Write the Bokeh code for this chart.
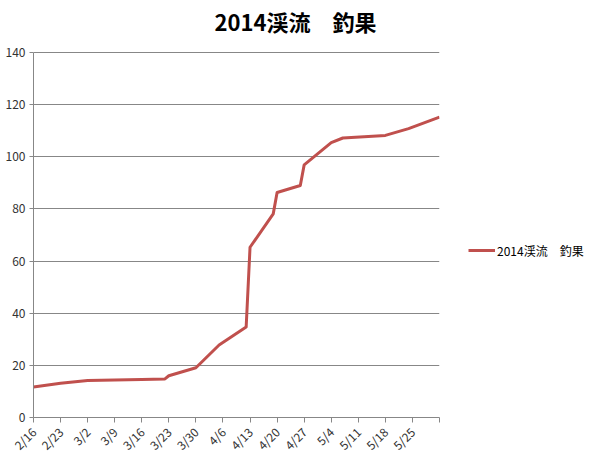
import math
import pandas as pd
from bokeh.plotting import figure
from bokeh.models import (FixedTicker, Legend, LegendItem, Range1d, Label,
                          ColumnDataSource)
from bokeh.embed import file_html
from bokeh.resources import INLINE

# ---- data ----
dates = ["2014-02-16", "2014-02-23", "2014-03-02", "2014-03-09", "2014-03-16",
         "2014-03-22", "2014-03-23", "2014-03-30", "2014-04-05", "2014-04-12",
         "2014-04-13", "2014-04-19", "2014-04-20", "2014-04-26", "2014-04-27",
         "2014-05-04", "2014-05-07", "2014-05-18", "2014-05-24", "2014-06-01"]
catch = [11.7, 13.1, 14.2, 14.4, 14.6,
         14.8, 16.0, 19.1, 27.8, 34.7,
         65.3, 78.1, 86.3, 89.0, 96.9,
         105.4, 107.2, 108.2, 110.8, 115.2]
tick_dates = ["2014-02-16", "2014-02-23", "2014-03-02", "2014-03-09", "2014-03-16",
              "2014-03-23", "2014-03-30", "2014-04-06", "2014-04-13", "2014-04-20",
              "2014-04-27", "2014-05-04", "2014-05-11", "2014-05-18", "2014-05-25",
              "2014-06-01"]
tick_labels = ["2/16", "2/23", "3/2", "3/9", "3/16", "3/23", "3/30", "4/6", "4/13",
               "4/20", "4/27", "5/4", "5/11", "5/18", "5/25", ""]
y_ticks = [0, 20, 40, 60, 80, 100, 120, 140]
series_name = "2014渓流\u3000釣果"
title_text = "2014渓流\u3000釣果"

def to_ms(d):
    return pd.Timestamp(d).value / 1e6

src = ColumnDataSource(data=dict(x=[to_ms(d) for d in dates], y=catch))
tick_ms = [to_ms(d) for d in tick_dates]

FONT = "Noto Sans CJK JP"
TXT = "#333333"
GRID = "#878787"

# plot area: 0..140 spans 365 px; the frame reaches further up to hold the title
PLOT_H = 365
FRAME_H = 413
y_max = y_ticks[-1]
y_top = y_max * FRAME_H / PLOT_H

p = figure(frame_width=406, frame_height=FRAME_H, x_axis_type="datetime",
           x_range=Range1d(start=tick_ms[0], end=tick_ms[-1]),
           y_range=Range1d(start=0, end=y_top),
           output_backend="svg", toolbar_location=None,
           min_border_left=33, min_border_right=160, min_border_top=4,
           min_border_bottom=58)
p.outline_line_color = None
p.background_fill_color = "white"
p.border_fill_color = "white"

title = Label(text=title_text, x=262, y=397, x_units="screen", y_units="screen",
              text_align="center", text_baseline="middle", text_font=FONT,
              text_font_size="22px", text_font_style="bold", text_color="#000000")
p.add_layout(title)

r = p.line("x", "y", source=src, line_color="#C0504D", line_width=3,
           line_join="round")

# axes
xa = p.xaxis[0]
xa.ticker = FixedTicker(ticks=tick_ms)
xa.major_label_overrides = {ms: lab for ms, lab in zip(tick_ms, tick_labels)}
xa.major_label_orientation = math.pi / 4
xa.minor_tick_line_color = None
xa.major_tick_in = 0
xa.major_tick_out = 5
xa.axis_line_color = GRID
xa.major_tick_line_color = GRID
xa.major_label_text_font = FONT
xa.major_label_text_font_size = "12px"
xa.major_label_text_color = TXT
xa.major_label_standoff = 7

ya = p.yaxis[0]
ya.ticker = FixedTicker(ticks=y_ticks)
ya.bounds = (0, y_max)
ya.minor_tick_line_color = None
ya.major_tick_in = 0
ya.major_tick_out = 4
ya.axis_line_color = GRID
ya.major_tick_line_color = GRID
ya.major_label_text_font = FONT
ya.major_label_text_font_size = "12px"
ya.major_label_text_color = TXT
ya.major_label_standoff = 4

p.xgrid.visible = False
p.ygrid.ticker = FixedTicker(ticks=y_ticks)
p.ygrid.grid_line_color = GRID
p.ygrid.grid_line_width = 1

legend = Legend(items=[LegendItem(label=series_name, renderers=[r])],
                location=(29, 157), glyph_width=27, label_standoff=2,
                padding=0, margin=0, border_line_color=None,
                background_fill_alpha=0, label_text_font=FONT,
                label_text_font_size="12px", label_text_color="#000000")
p.add_layout(legend, "right")

open("out.html", "w").write(file_html(p, INLINE))
